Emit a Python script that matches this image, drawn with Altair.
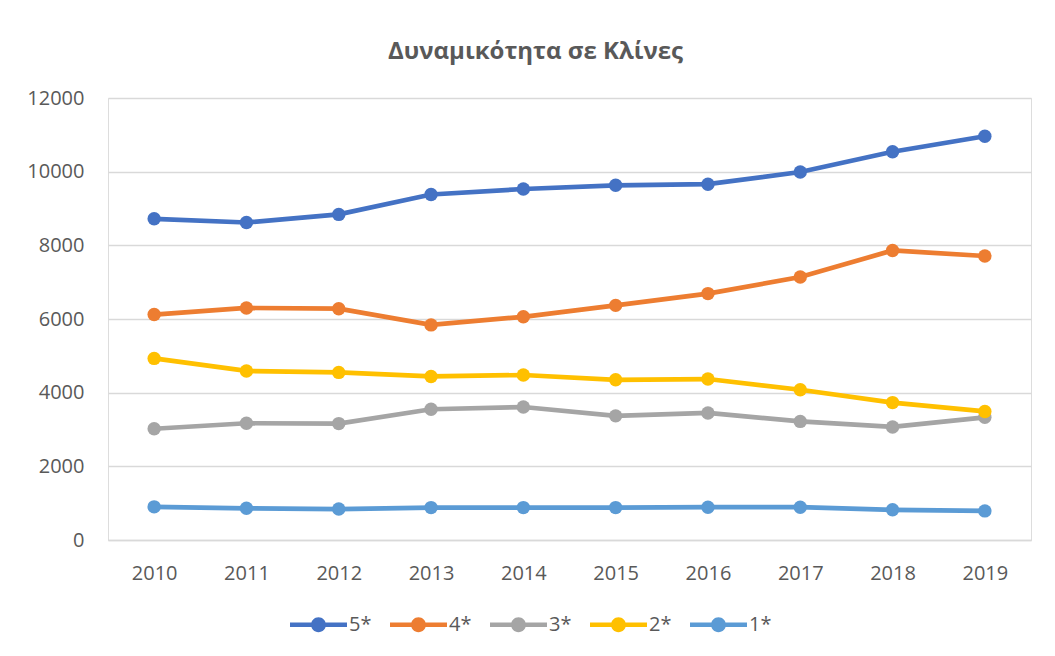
import altair as alt
import pandas as pd

years = ["2010", "2011", "2012", "2013", "2014", "2015", "2016", "2017", "2018", "2019"]
series_names = ["5*", "4*", "3*", "2*", "1*"]
s5 = [8720, 8620, 8840, 9380, 9530, 9630, 9660, 9990, 10540, 10960]
s4 = [6120, 6300, 6280, 5840, 6060, 6370, 6690, 7140, 7860, 7710]
s3 = [3020, 3170, 3160, 3550, 3610, 3370, 3450, 3220, 3070, 3330]
s2 = [4930, 4590, 4550, 4440, 4480, 4350, 4370, 4080, 3730, 3490]
s1 = [900, 860, 840, 880, 880, 880, 890, 890, 820, 790]
colors = ["#4472C4", "#ED7D31", "#A5A5A5", "#FFC000", "#5B9BD5"]
y_ticks = [0, 2000, 4000, 6000, 8000, 10000, 12000]

rows = []
for name, vals in zip(series_names, [s5, s4, s3, s2, s1]):
    for yr, v in zip(years, vals):
        rows.append({"year": yr, "series": name, "value": v})
df = pd.DataFrame(rows)

FONT = "Open Sans"
TXT = "#595959"

# legend symbol: line segment plus a dot (same winding so the dot is solid)
sym = ("M-1,-0.075 L1,-0.075 L1,0.075 L-1,0.075 Z "
       "M-0.26,0 A0.26,0.26 0 1,1 0.26,0 A0.26,0.26 0 1,1 -0.26,0 Z")

color = alt.Color(
    "series:N",
    sort=series_names,
    scale=alt.Scale(domain=series_names, range=colors),
    legend=alt.Legend(
        title=None,
        orient="none",
        direction="horizontal",
        legendX=182,
        legendY=498,
        symbolType=sym,
        symbolSize=3249,
        symbolStrokeWidth=0,
        symbolOpacity=1,
        labelFont=FONT,
        labelFontSize=20,
        labelColor=TXT,
        labelOffset=2,
        columnPadding=18,
    ),
)

x = alt.X(
    "year:O",
    sort=years,
    scale=alt.Scale(type="point", padding=0.5),
    axis=alt.Axis(title=None, labelAngle=0, ticks=False, tickSize=0, labelPadding=23,
                  domain=True, domainColor="#D9D9D9", domainWidth=1.5, grid=False,
                  labelFont=FONT, labelFontSize=20, labelColor=TXT),
)
y = alt.Y(
    "value:Q",
    scale=alt.Scale(domain=[0, 12000], nice=False),
    axis=alt.Axis(title=None, values=y_ticks, ticks=False, tickSize=0, labelPadding=24,
                  domain=False, grid=True, gridColor="#D9D9D9", gridWidth=1.5,
                  labelFont=FONT, labelFontSize=20, labelColor=TXT, format="d"),
)

base = alt.Chart(df)
lines = base.mark_line(strokeWidth=4.7).encode(x=x, y=y, color=color, order=alt.Order("year:O"))
points = base.mark_point(filled=True, size=180, opacity=1).encode(x=x, y=y, color=color)

chart = alt.layer(lines, points).properties(
    width=923,
    height=442,
    title=alt.TitleParams(
        "Δυναμικότητα σε Κλίνες",
        font=FONT, fontSize=24, fontWeight="bold", color=TXT,
        anchor="middle", dx=-34, offset=24,
    ),
    autosize=alt.AutoSizeParams(type="none"),
    padding={"left": 100, "top": 90, "right": 16, "bottom": 110},
).configure_view(stroke=None).configure(background="white")

chart.save("out.html", embed_options={"renderer": "svg", "actions": False})
